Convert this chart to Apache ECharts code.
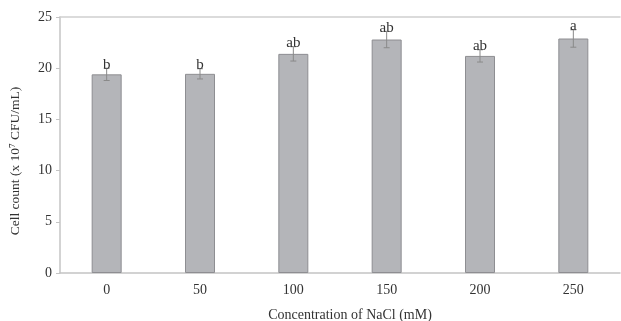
<!DOCTYPE html>
<html><head><meta charset="utf-8">
<script src="https://cdn.jsdelivr.net/npm/echarts@6/dist/echarts.min.js"></script>
<style>html,body{margin:0;padding:0;background:#fff}#c{width:621px;height:321px}</style>
</head><body><div id="c"></div>
<script>
var categories = ['0', '50', '100', '150', '200', '250'];
var values = [19.4, 19.45, 21.4, 22.8, 21.2, 22.9];
var errors = [0.6, 0.5, 0.7, 0.8, 0.6, 0.85];
var letters = ['b', 'b', 'ab', 'ab', 'ab', 'a'];
var yTicks = [0, 5, 10, 15, 20, 25];

var errData = values.map(function (v, i) { return [i, v - errors[i], v + errors[i], letters[i]]; });
var font = '"Liberation Serif", "Times New Roman", serif';
var chart = echarts.init(document.getElementById('c'));
chart.setOption({
  animation: false,
  textStyle: { fontFamily: font },
  grid: { left: 60, right: 1, top: 17, bottom: 48, outerBoundsMode: 'none', containLabel: false },
  xAxis: [{
    type: 'category', data: categories,
    name: 'Concentration of NaCl (mM)', nameLocation: 'middle', nameGap: 35,
    nameTextStyle: { fontFamily: font, fontSize: 14, color: '#333', padding: [0, 0, 0, 20] },
    axisLine: { lineStyle: { color: '#c4c4c4', width: 1.5 } },
    axisTick: { show: false },
    axisLabel: { fontFamily: font, fontSize: 14, color: '#333', margin: 10 }
  }, {
    type: 'category', data: categories, position: 'top',
    axisLine: { show: true, lineStyle: { color: '#d0d0d0', width: 1.5 } },
    axisTick: { show: false }, axisLabel: { show: false }
  }],
  yAxis: {
    type: 'value', min: yTicks[0], max: yTicks[yTicks.length - 1], interval: 5,
    name: 'Cell count (x 10\u2077 CFU/mL)', nameLocation: 'middle', nameGap: 38,
    nameTextStyle: { fontFamily: font, fontSize: 13.5, color: '#333', padding: [0, 32, 0, 0] },
    axisLine: { show: true, lineStyle: { color: '#c4c4c4', width: 1.5 } },
    axisTick: { show: true, length: 4, lineStyle: { color: '#c4c4c4' } },
    axisLabel: { fontFamily: font, fontSize: 14, color: '#333', margin: 8 },
    splitLine: { show: false }
  },
  series: [{
    type: 'bar', data: values, barWidth: 30,
    itemStyle: { color: '#b4b5b9', borderColor: '#8e8e92', borderWidth: 1 }
  }, {
    type: 'custom', data: errData, z: 10,
    renderItem: function (params, api) {
      var x = api.coord([api.value(0), 0])[0];
      var lo = api.coord([api.value(0), api.value(1)])[1];
      var hi = api.coord([api.value(0), api.value(2)])[1];
      var c = 3;
      var st = { stroke: '#8a8a8a', lineWidth: 1 };
      return { type: 'group', children: [
        { type: 'line', shape: { x1: x, y1: lo, x2: x, y2: hi }, style: st },
        { type: 'line', shape: { x1: x - c, y1: lo, x2: x + c, y2: lo }, style: st },
        { type: 'line', shape: { x1: x - c, y1: hi, x2: x + c, y2: hi }, style: st },
        { type: 'text', style: { text: letters[params.dataIndex], x: x, y: hi + 4, align: 'center', verticalAlign: 'bottom',
          font: '15px ' + font, fill: '#333' } }
      ] };
    }
  }]
});
</script></body></html>
